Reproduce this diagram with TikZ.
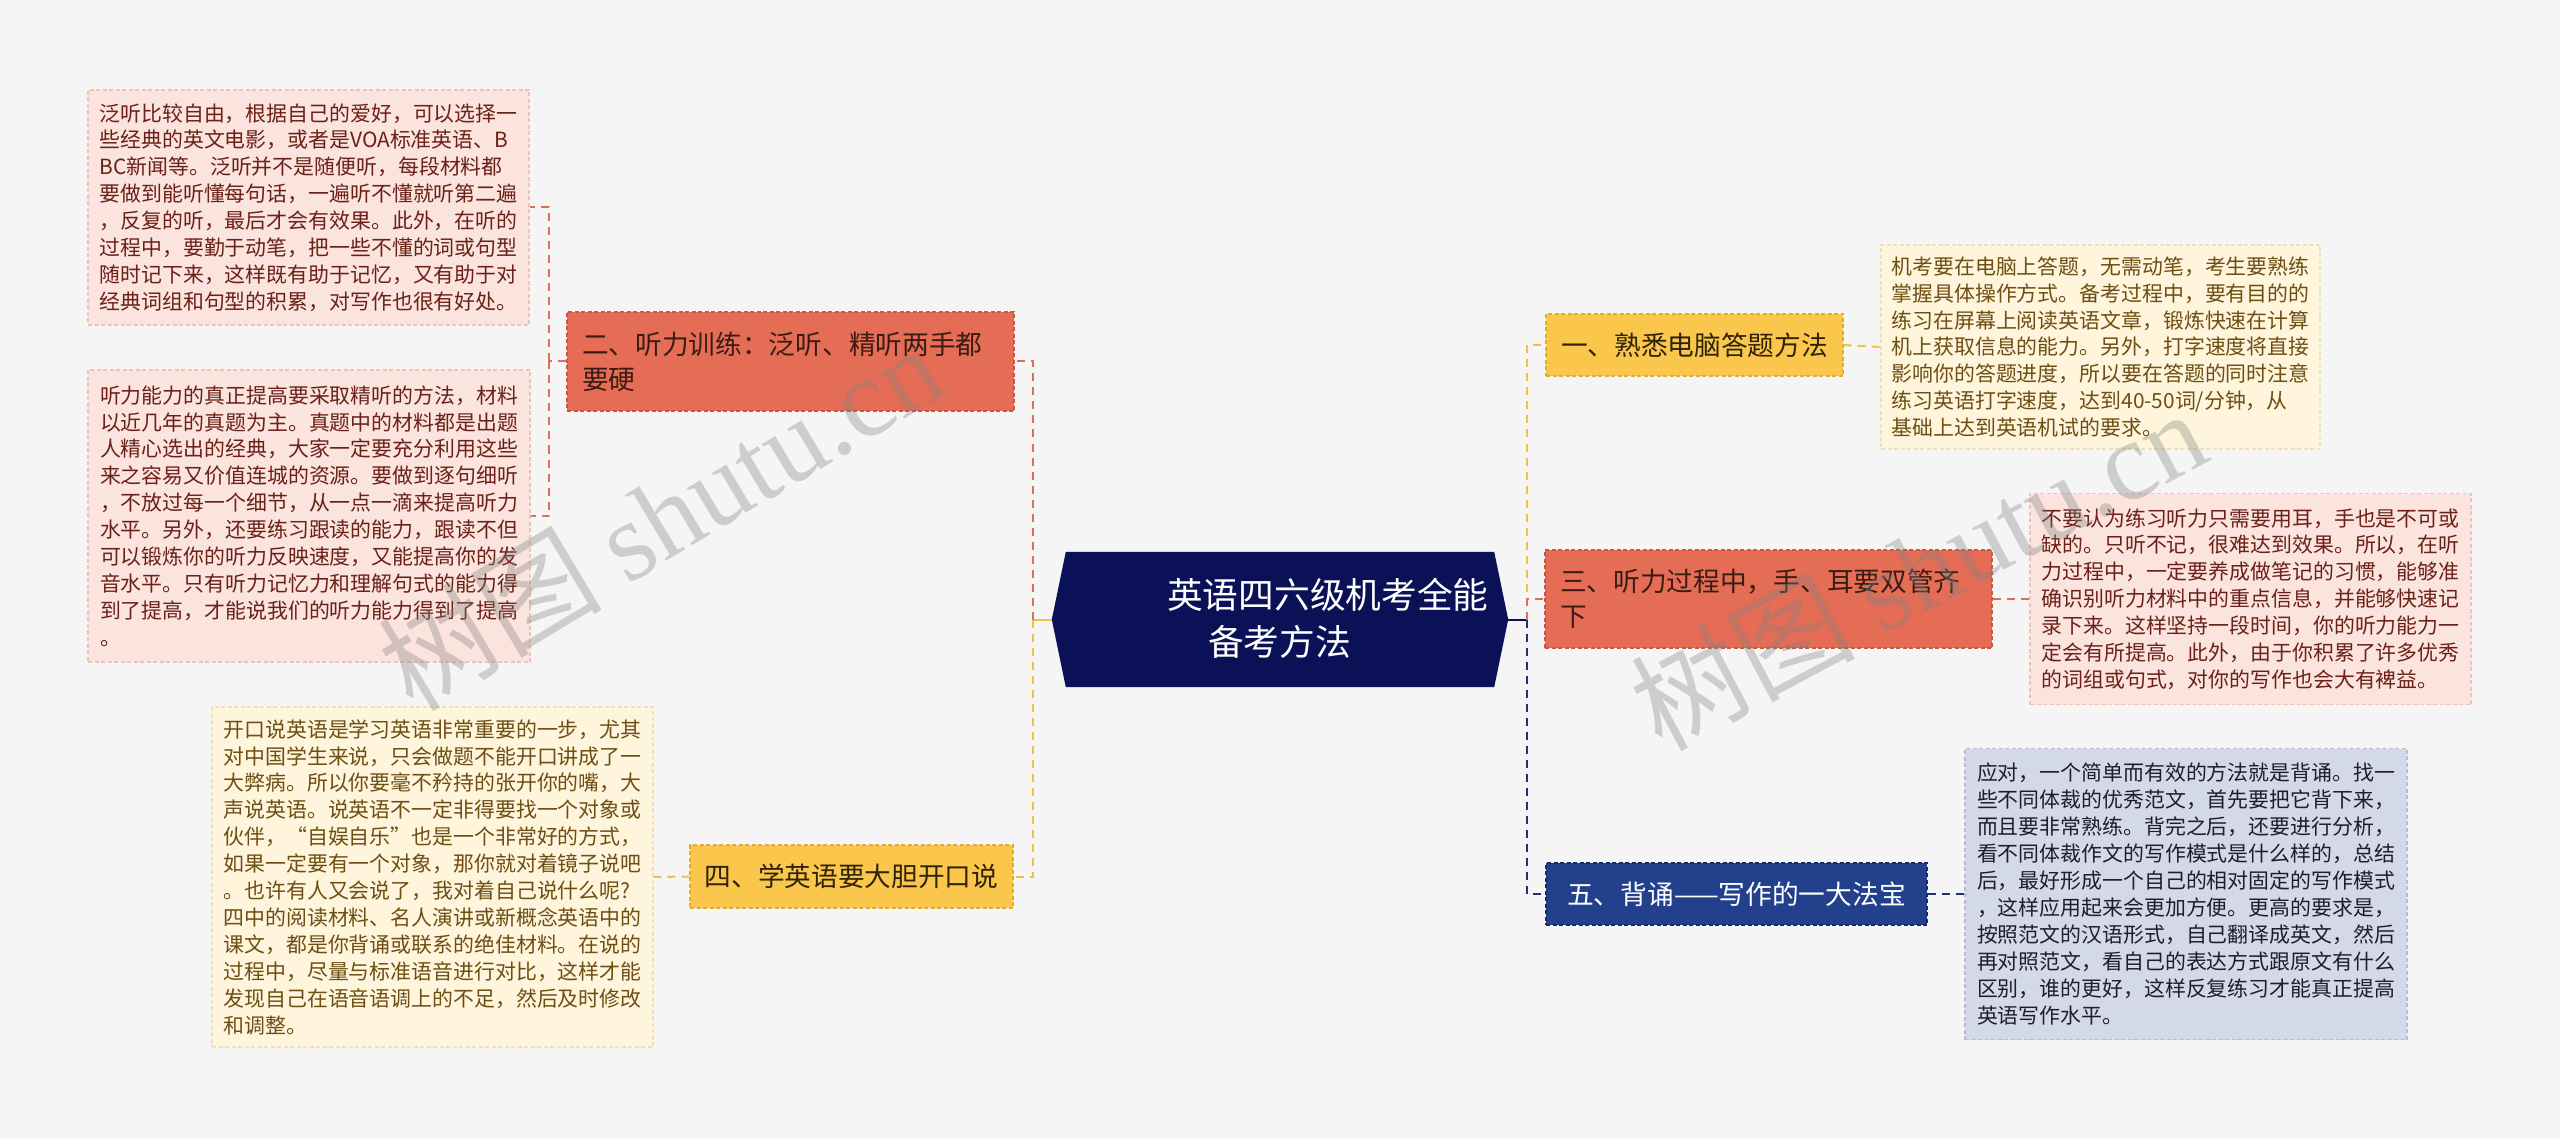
\documentclass[tikz,border=0pt]{standalone}
\usepackage{fontspec}
\newfontfamily\cjk{Noto Sans CJK SC}
\newfontfamily\wmfont{Liberation Serif}
\usetikzlibrary{calc}
\definecolor{bgc}{HTML}{F5F5F5}
\definecolor{navy}{HTML}{0B1157}
\definecolor{brR}{HTML}{E56D56}
\definecolor{brRd}{HTML}{C95640}
\definecolor{brRt}{HTML}{3B1C14}
\definecolor{brY}{HTML}{FAC64B}
\definecolor{brYd}{HTML}{E2AC2E}
\definecolor{brYt}{HTML}{2E2306}
\definecolor{brB}{HTML}{22408C}
\definecolor{brBd}{HTML}{152C66}
\definecolor{lfR}{HTML}{FBE3DE}
\definecolor{lfRd}{HTML}{EDC2B9}
\definecolor{lfRt}{HTML}{6B2117}
\definecolor{lfY}{HTML}{FEF5DC}
\definecolor{lfYd}{HTML}{F1E0B2}
\definecolor{lfYt}{HTML}{6E4E12}
\definecolor{lfB}{HTML}{D3D9E8}
\definecolor{lfBd}{HTML}{B4BDD4}
\definecolor{lfBt}{HTML}{1E1E2A}
\definecolor{cnR}{HTML}{D9705C}
\definecolor{cnY}{HTML}{F2C04A}
\definecolor{cnB}{HTML}{1E3372}
\begin{document}
\begin{tikzpicture}[x=1pt,y=-1pt,
  boxbase/.style={rectangle, inner sep=0pt, line width=1.2pt, dash pattern=on 4pt off 2.5pt},
  brfont/.style={font=\cjk\fontsize{26.7}{35}\selectfont},
  lffont/.style={font=\cjk\fontsize{20.9}{26.9}\selectfont},
  brRed/.style={boxbase, brfont, fill=brR, draw=brRd, text=brRt, align=left, inner xsep=15pt, text width=417pt},
  brYel/.style={boxbase, brfont, fill=brY, draw=brYd, text=brYt, align=center},
  brBlu/.style={boxbase, brfont, fill=brB, draw=brBd, text=white, align=center},
  lfRed/.style={boxbase, lffont, fill=lfR, draw=lfRd, text=lfRt, align=left},
  lfYel/.style={boxbase, lffont, fill=lfY, draw=lfYd, text=lfYt, align=left},
  lfBlu/.style={boxbase, lffont, fill=lfB, draw=lfBd, text=lfBt, align=left},
  con/.style={line width=2pt, dash pattern=on 8pt off 6pt},
  wm/.style={text=gray, opacity=0.34, rotate=31, inner sep=0pt}
]
\useasboundingbox (0,0) rectangle (2560,1139);
\fill[bgc] (0,0) rectangle (2560,1139);

% centre
\node[rectangle, minimum width=456pt, minimum height=135pt, inner sep=0pt] (c) at (1280,619.5) {};
\fill[navy] (c.west) -- ($(c.north west)+(14,0)$) -- ($(c.north east)+(-14,0)$) -- (c.east)
  -- ($(c.south east)+(-14,0)$) -- ($(c.south west)+(14,0)$) -- cycle;
\node[anchor=west, inner sep=0pt, text=white, font=\cjk\fontsize{35.7}{47}\selectfont] (ct1) at (1167,595) {英语四六级机考全能};
\node[anchor=west, inner sep=0pt, text=white, font=\cjk\fontsize{35.7}{47}\selectfont] (ct2) at (1208,642) {备考方法};

% branches
\node[brRed, minimum height=99pt] (b2) at (790.5,361.5) {二、听力训练：泛听、精听两手都\\要硬};
\node[brYel, minimum width=323pt, minimum height=63pt] (b4) at (851.5,876.5) {四、学英语要大胆开口说};
\node[brYel, minimum width=297pt, minimum height=62pt] (b1) at (1694.5,345) {一、熟悉电脑答题方法};
\node[brRed, minimum height=98pt] (b3) at (1768.5,599) {三、听力过程中，手、耳要双管齐\\下};
\node[brBlu, minimum width=381pt, minimum height=62pt] (b5) at (1736.5,894) {五、背诵——写作的一大法宝};

% leaves
\node[lfRed, minimum width=441pt, minimum height=235pt] (l1) at (308.5,207.5) {泛听比较自由，根据自己的爱好，可以选择一\\%
些经典的英文电影，或者是VOA标准英语、B\\%
BC新闻等。泛听并不是随便听，每段材料都\\%
要做到能听懂每句话，一遍听不懂就听第二遍\\%
，反复的听，最后才会有效果。此外，在听的\\%
过程中，要勤于动笔，把一些不懂的词或句型\\%
随时记下来，这样既有助于记忆，又有助于对\\%
经典词组和句型的积累，对写作也很有好处。};

\node[lfRed, minimum width=442pt, minimum height=292pt] (l2) at (309,516) {听力能力的真正提高要采取精听的方法，材料\\%
以近几年的真题为主。真题中的材料都是出题\\%
人精心选出的经典，大家一定要充分利用这些\\%
来之容易又价值连城的资源。要做到逐句细听\\%
，不放过每一个细节，从一点一滴来提高听力\\%
水平。另外，还要练习跟读的能力，跟读不但\\%
可以锻炼你的听力反映速度，又能提高你的发\\%
音水平。只有听力记忆力和理解句式的能力得\\%
到了提高，才能说我们的听力能力得到了提高\\%
。};

\node[lfYel, minimum width=441pt, minimum height=340pt] (l3) at (432.5,877) {开口说英语是学习英语非常重要的一步，尤其\\%
对中国学生来说，只会做题不能开口讲成了一\\%
大弊病。所以你要毫不矜持的张开你的嘴，大\\%
声说英语。说英语不一定非得要找一个对象或\\%
伙伴，“自娱自乐”也是一个非常好的方式，\\%
如果一定要有一个对象，那你就对着镜子说吧\\%
。也许有人又会说了，我对着自己说什么呢?\\%
四中的阅读材料、名人演讲或新概念英语中的\\%
课文，都是你背诵或联系的绝佳材料。在说的\\%
过程中，尽量与标准语音进行对比，这样才能\\%
发现自己在语音语调上的不足，然后及时修改\\%
和调整。};

\node[lfYel, minimum width=439pt, minimum height=204pt] (l4) at (2100.5,347) {机考要在电脑上答题，无需动笔，考生要熟练\\%
掌握具体操作方式。备考过程中，要有目的的\\%
练习在屏幕上阅读英语文章，锻炼快速在计算\\%
机上获取信息的能力。另外，打字速度将直接\\%
影响你的答题进度，所以要在答题的同时注意\\%
练习英语打字速度，达到40-50词/分钟，从\\%
基础上达到英语机试的要求。};

\node[lfRed, minimum width=441pt, minimum height=211pt] (l5) at (2250.5,599) {不要认为练习听力只需要用耳，手也是不可或\\%
缺的。只听不记，很难达到效果。所以，在听\\%
力过程中，一定要养成做笔记的习惯，能够准\\%
确识别听力材料中的重点信息，并能够快速记\\%
录下来。这样坚持一段时间，你的听力能力一\\%
定会有所提高。此外，由于你积累了许多优秀\\%
的词组或句式，对你的写作也会大有裨益。};

\node[lfBlu, minimum width=442pt, minimum height=291pt] (l6) at (2186,894) {应对，一个简单而有效的方法就是背诵。找一\\%
些不同体裁的优秀范文，首先要把它背下来，\\%
而且要非常熟练。背完之后，还要进行分析，\\%
看不同体裁作文的写作模式是什么样的，总结\\%
后，最好形成一个自己的相对固定的写作模式\\%
，这样应用起来会更加方便。更高的要求是，\\%
按照范文的汉语形式，自己翻译成英文，然后\\%
再对照范文，看自己的表达方式跟原文有什么\\%
区别，谁的更好，这样反复练习才能真正提高\\%
英语写作水平。};

% trunks
\coordinate (tl) at (1033,619.5);
\coordinate (tr) at (1527,619.5);
\coordinate (ll) at (549,361.5);

\draw[cnY, line width=2pt] (c.west) -- (tl);
\draw[navy, line width=2pt] (c.east) -- (tr);
\draw[con, cnR] (tl) |- (b2.east);
\draw[con, cnY] (tl) |- (b4.east);
\draw[con, cnY] (tr) |- (b1.west);
\draw[con, cnR] (tr) |- (b3.west);
\draw[con, cnB] (tr) |- (b5.west);

\draw[con, cnR] (b2.west) -- (ll);
\draw[con, cnR] (ll) |- (l1.east);
\draw[con, cnR] (ll) |- (l2.east);
\draw[con, cnY] (b4.west) -- (l3.east);
\draw[con, cnY] (b1.east) -- (l4.west);
\draw[con, cnR] (b3.east) -- (l5.west);
\draw[con, cnB] (b5.east) -- (l6.west);

% watermarks
\node[wm] (wm1) at (660,516) {\cjk\fontsize{112}{112}\selectfont 树图 \wmfont shutu.cn};
\node[wm, rotate=-3] (wm2) at (1918,568) {\cjk\fontsize{112}{112}\selectfont 树图 \wmfont shutu.cn};
\end{tikzpicture}
\end{document}
